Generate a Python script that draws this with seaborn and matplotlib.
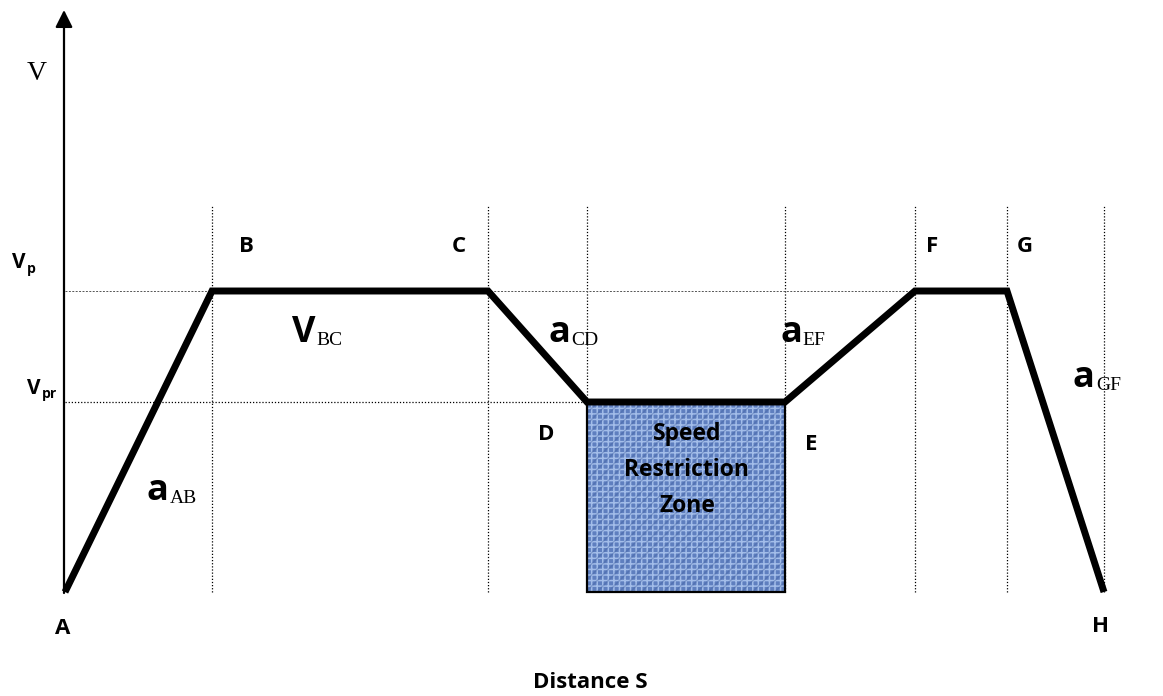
import matplotlib
matplotlib.use("Agg")
import matplotlib.pyplot as plt
import matplotlib.patches as mpatches
import pandas as pd
import seaborn as sns

# speed profile points (distance, speed)
points = ["A", "B", "C", "D", "E", "F", "G", "H"]
s_vals = [0.0, 1.47, 4.23, 5.22, 7.20, 8.50, 9.42, 10.39]
v_p = 3.01
v_pr = 1.90
v_vals = [0.0, v_p, v_p, v_pr, v_pr, v_p, v_p, 0.0]

sns.set_style("white")
SANS = ["Open Sans", "DejaVu Sans"]
SERIF = ["Liberation Serif", "DejaVu Serif"]

W, H = 1163, 696
X0, Y0 = 65, 592  # pixel position of the origin


def at(px, py):
    # pixel position -> data coords (only used to place labels)
    return (px - X0) / 100.0, (Y0 - py) / 100.0


fig = plt.figure(figsize=(W / 100, H / 100), dpi=100)
ax = fig.add_axes([0, 0, 1, 1])
ax.set_xlim(-X0 / 100, (W - X0) / 100)
ax.set_ylim(-(H - Y0) / 100, Y0 / 100)
ax.axis("off")

df = pd.DataFrame({"s": s_vals, "v": v_vals, "pt": points})

# guide lines
top_guide = at(0, 205)[1]
for s in s_vals[1:]:
    ax.plot([s, s], [0, top_guide], color="black", lw=0.9, ls=(0, (1, 1.5)), zorder=1)
ax.plot([0, s_vals[5]], [v_p, v_p], color="#555555", lw=0.7, ls=(0, (2, 1.5)), zorder=1)
ax.plot([0, s_vals[3]], [v_pr, v_pr], color="black", lw=0.9, ls=(0, (1, 1.5)), zorder=1)

# speed restriction zone (cloth-like fill)
plt.rcParams["hatch.linewidth"] = 1.1
zone_w = s_vals[4] - s_vals[3]
ax.add_patch(mpatches.Rectangle((s_vals[3], 0), zone_w, v_pr,
                                facecolor="#5f7fbf", edgecolor="#a3bde9",
                                hatch="+++", lw=0, zorder=2))
ax.add_patch(mpatches.Rectangle((s_vals[3], 0), zone_w, v_pr,
                                facecolor="none", edgecolor="#3e5d9e",
                                hatch="///", lw=0, alpha=0.35, zorder=2))
ax.add_patch(mpatches.Rectangle((s_vals[3], 0), zone_w, v_pr,
                                facecolor="none", edgecolor="black", lw=1.6, zorder=3))

# speed profile
sns.lineplot(data=df, x="s", y="v", sort=False, color="black", lw=5, ax=ax,
             zorder=4)
ax.lines[-1].set_solid_joinstyle("miter")
ax.lines[-1].set_solid_capstyle("butt")

# axes with arrows
ax.annotate("", xy=at(64, 10), xytext=at(64, 593),
            arrowprops=dict(arrowstyle="-|>", lw=1.6, color="black",
                            mutation_scale=26, shrinkA=0, shrinkB=0), zorder=5)
ax.annotate("", xy=at(1168, 593), xytext=at(64, 593),
            arrowprops=dict(arrowstyle="-|>", lw=1.6, color="black",
                            mutation_scale=26, shrinkA=0, shrinkB=0), zorder=5)

# point letters
letter_pos = {"A": (63, 628), "B": (246, 246), "C": (459, 246), "D": (546, 434),
              "E": (811, 445), "F": (932, 246), "G": (1025, 247), "H": (1101, 626)}
for p in points:
    ax.text(*at(*letter_pos[p]), p, family=SANS, weight="bold", fontsize=16,
            color="black", ha="center", va="center")


def sym_sub(sym, sub, px, py, size, sub_size, sub_family, drop):
    t = ax.text(*at(px, py), sym, family=SANS, weight="bold", fontsize=size,
                color="black", ha="left", va="baseline")
    fig.canvas.draw()
    bb = t.get_window_extent()
    ax.text(*at(bb.x1 + 1, py + drop), sub, fontsize=sub_size, color="black",
            ha="left", va="baseline", **sub_family)


# axis labels
ax.text(*at(37, 74), "V", family=SERIF, fontsize=20, color="black",
        ha="center", va="center")
sym_sub("V", "p", 12, 268, 15, 10, dict(family=SANS, weight="bold"), 5)
sym_sub("V", "pr", 27, 394, 15, 10, dict(family=SANS, weight="bold"), 4)
ax.text(*at(590, 682), "Distance S", family=SANS, weight="bold", fontsize=16,
        color="black", ha="center", va="center")

# segment labels: big bold symbol + serif subscript
seg_labels = [("V", "BC", 292, 342), ("a", "CD", 548, 342), ("a", "EF", 780, 342),
              ("a", "GF", 1073, 387), ("a", "AB", 147, 500)]
for sym, sub, px, py in seg_labels:
    sym_sub(sym, sub, px, py, 26, 14, dict(family=SERIF), 3)

ax.text(*at(687, 470), "Speed\nRestriction\nZone", family=SANS, weight="bold",
        fontsize=16.5, color="black", ha="center", va="center", linespacing=1.65,
        zorder=6)

fig.savefig("out.png", dpi=100)
